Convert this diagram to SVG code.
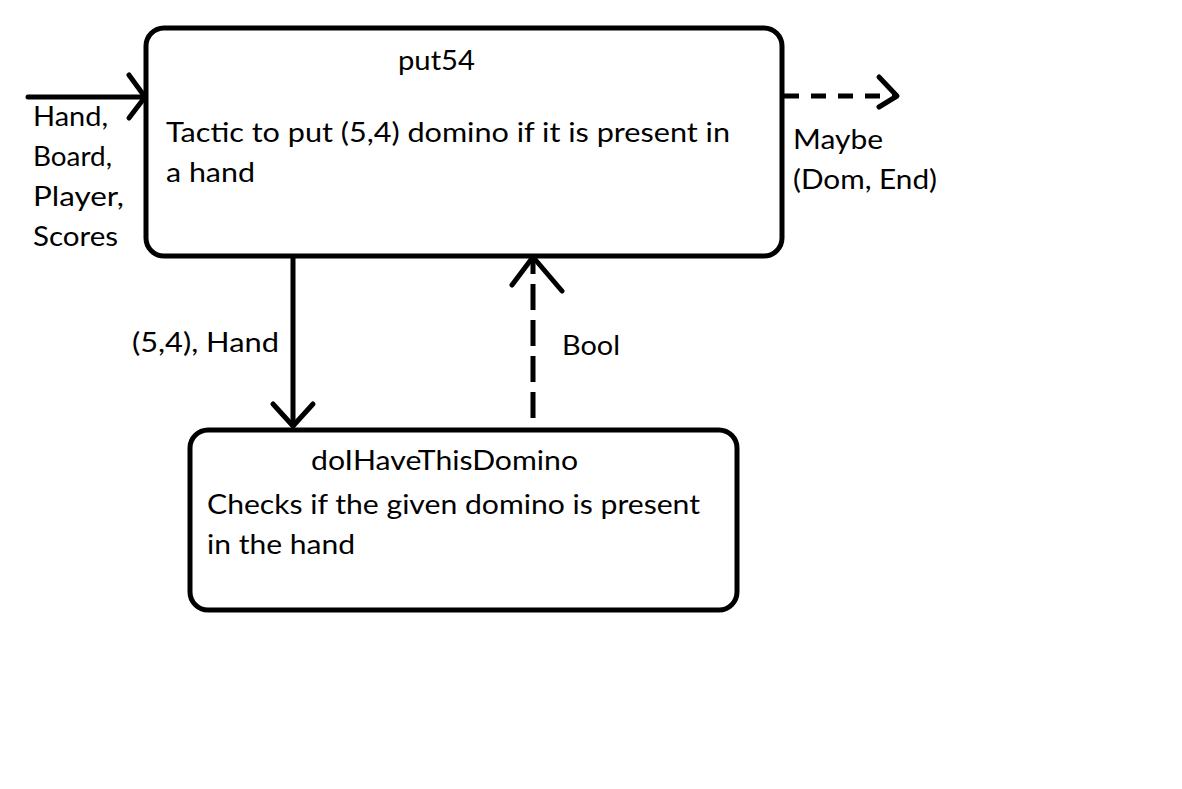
<svg xmlns="http://www.w3.org/2000/svg" width="1182" height="789" viewBox="0 0 1182 789">
<style>
.box{fill:#fff;stroke:#000;stroke-width:5}
.ln{fill:none;stroke:#000;stroke-width:5;stroke-linecap:round;stroke-linejoin:round}
.dash{fill:none;stroke:#000;stroke-width:5}
text{font-family:Lato,"Liberation Sans",sans-serif;font-size:27px;fill:#000}
</style>
<rect width="1182" height="789" fill="#fff"/>
<g id="put54">
<rect class="box" x="146" y="28" width="636" height="228" rx="18"/>
<text x="398" y="70" textLength="77" lengthAdjust="spacingAndGlyphs">put54</text>
<text x="166" y="142" textLength="564" lengthAdjust="spacingAndGlyphs">Tactic to put (5,4) domino if it is present in</text>
<text x="166" y="182" textLength="89" lengthAdjust="spacingAndGlyphs">a hand</text>
</g>
<g id="doIHaveThisDomino">
<rect class="box" x="190" y="430" width="547" height="180" rx="18"/>
<text x="311" y="470" textLength="267" lengthAdjust="spacingAndGlyphs">doIHaveThisDomino</text>
<text x="207" y="514" textLength="493" lengthAdjust="spacingAndGlyphs">Checks if the given domino is present</text>
<text x="207" y="554" textLength="148" lengthAdjust="spacingAndGlyphs">in the hand</text>
</g>
<g id="connectors">
<line class="ln" x1="28" y1="97" x2="144" y2="97"/>
<polyline class="ln" points="129,75 145,97 129,118"/>
<text x="33" y="126" textLength="75" lengthAdjust="spacingAndGlyphs">Hand,</text>
<text x="33" y="166" textLength="79" lengthAdjust="spacingAndGlyphs">Board,</text>
<text x="33" y="206" textLength="91" lengthAdjust="spacingAndGlyphs">Player,</text>
<text x="33" y="246" textLength="85" lengthAdjust="spacingAndGlyphs">Scores</text>
<line class="dash" x1="784" y1="96" x2="895" y2="96" stroke-dasharray="15 12"/>
<polyline class="ln" points="879,77 897,96 879,107"/>
<text x="793" y="149" textLength="90" lengthAdjust="spacingAndGlyphs">Maybe</text>
<text x="793" y="189" textLength="144" lengthAdjust="spacingAndGlyphs">(Dom, End)</text>
<line class="ln" x1="293" y1="258" x2="293" y2="425"/>
<polyline class="ln" points="273,404 293,426 313,404"/>
<text x="132" y="352" textLength="147" lengthAdjust="spacingAndGlyphs">(5,4), Hand</text>
<line class="dash" x1="533" y1="418" x2="533" y2="260" stroke-dasharray="26 10"/>
<polyline class="ln" points="512,285 533,257 562,291"/>
<text x="562" y="355" textLength="58" lengthAdjust="spacingAndGlyphs">Bool</text>
</g>
</svg>
